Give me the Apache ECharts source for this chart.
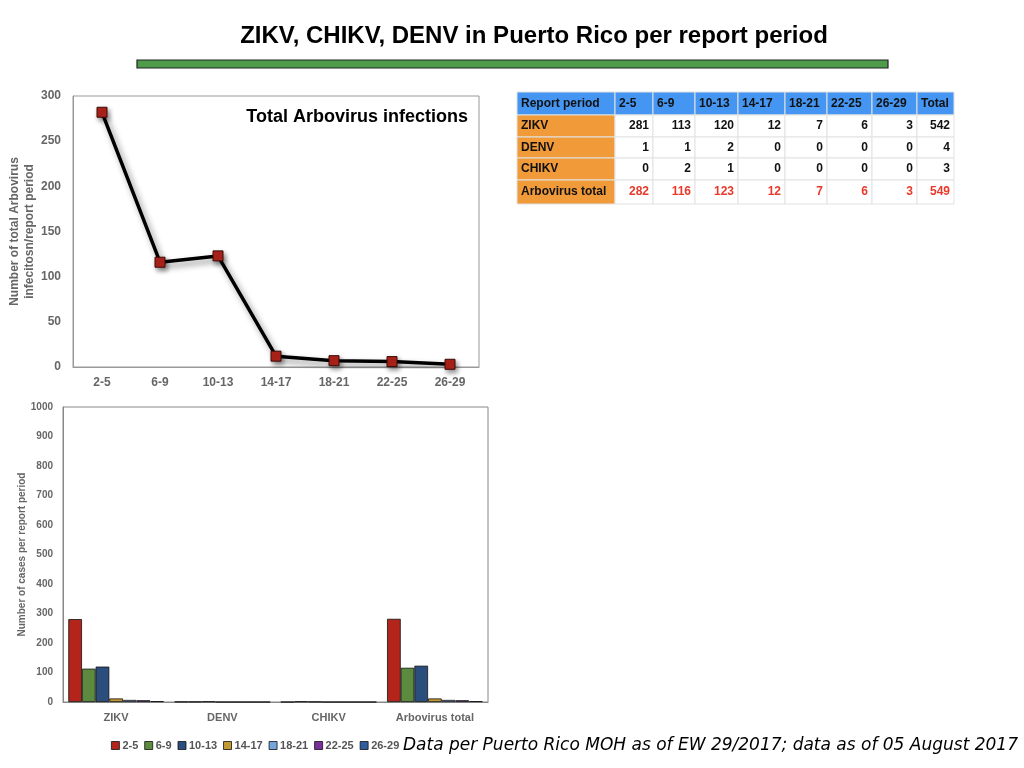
<!DOCTYPE html>
<html lang="en">
<head>
    <meta charset="UTF-8">
    <title>ZIKV, CHIKV, DENV in Puerto Rico</title>
    <script src="https://cdn.jsdelivr.net/npm/echarts@6/dist/echarts.min.js"></script>
    <style>
        html, body { margin: 0; padding: 0; background: #fff; }
        #main { width: 1024px; height: 768px; }
    </style>
</head>
<body>
<div id="main"></div>
<script>
    // report periods (epi weeks)
    var periods = ['2-5', '6-9', '10-13', '14-17', '18-21', '22-25', '26-29'];
    var zikv = [281, 113, 120, 12, 7, 6, 3];
    var denv = [1, 1, 2, 0, 0, 0, 0];
    var chikv = [0, 2, 1, 0, 0, 0, 0];
    var arboTotal = [282, 116, 123, 12, 7, 6, 3];
    var rowTotals = [542, 4, 3, 549];
    var viruses = ['ZIKV', 'DENV', 'CHIKV', 'Arbovirus total'];
    var barColors = ['#B3241A', '#5C8A3E', '#2C4E7D', '#C39A31', '#74A6DB', '#7B2F98', '#2F5C9C'];

    var chart = echarts.init(document.getElementById('main'));
    var gray = '#666';
    var font = 'Liberation Sans, Arial, sans-serif';

    // table built as graphic elements
    var colX = [517, 615, 653, 695, 738, 785, 827, 872, 917, 954];
    var rowY = [92, 115, 137, 158, 180, 204];
    var tableRows = [['Report period'].concat(periods, ['Total'])];
    var bodyData = [zikv, denv, chikv, arboTotal];
    for (var r = 0; r < viruses.length; r++) {
        tableRows.push([viruses[r]].concat(bodyData[r], [rowTotals[r]]));
    }
    var tableEls = [];
    for (var i = 0; i < tableRows.length; i++) {
        for (var j = 0; j < tableRows[i].length; j++) {
            var fill = '#fff';
            if (i === 0) fill = '#4596F2';
            else if (j === 0) fill = '#F09A3A';
            var x0 = colX[j], x1 = colX[j + 1], y0 = rowY[i], y1 = rowY[i + 1];
            tableEls.push({
                type: 'rect',
                shape: {x: x0, y: y0, width: x1 - x0, height: y1 - y0},
                style: {fill: fill, stroke: '#e2e2e2', lineWidth: 1}
            });
            var alignRight = (i > 0 && j > 0);
            tableEls.push({
                type: 'text',
                x: alignRight ? x1 - 4 : x0 + 4,
                y: (y0 + y1) / 2,
                style: {
                    text: String(tableRows[i][j]),
                    fill: (i === 4 && j > 0) ? '#E8392B' : '#111',
                    font: 'bold 12px ' + font,
                    align: alignRight ? 'right' : 'left',
                    verticalAlign: 'middle'
                }
            });
        }
    }

    var barSeries = periods.map(function (p, k) {
        return {
            name: p,
            type: 'bar',
            xAxisIndex: 1,
            yAxisIndex: 1,
            barGap: '0%',
            barCategoryGap: '10%',
            data: [zikv[k], denv[k], chikv[k], arboTotal[k]],
            itemStyle: {color: barColors[k], borderColor: '#111', borderWidth: 0.8}
        };
    });

    var option = {
        animation: false,
        textStyle: {fontFamily: font},
        grid: [
            {left: 73, right: 545, top: 96, bottom: 401, show: true, borderColor: '#999', borderWidth: 1},
            {left: 63, right: 536, top: 407, bottom: 66, show: true, borderColor: '#888', borderWidth: 1}
        ],
        xAxis: [
            {
                gridIndex: 0, type: 'category', data: periods,
                axisLine: {lineStyle: {color: '#999'}}, axisTick: {show: false},
                axisLabel: {color: gray, fontWeight: 'bold', fontSize: 12, margin: 10}
            },
            {
                gridIndex: 1, type: 'category', data: viruses,
                axisLine: {lineStyle: {color: '#888'}}, axisTick: {show: false},
                axisLabel: {color: gray, fontWeight: 'bold', fontSize: 11, margin: 10}
            }
        ],
        yAxis: [
            {
                gridIndex: 0, type: 'value', min: 0, max: 300, interval: 50,
                name: 'Number of total Arbovirus\ninfecitosn/report period',
                nameLocation: 'middle', nameGap: 35,
                nameTextStyle: {color: gray, fontWeight: 'bold', fontSize: 12, lineHeight: 15},
                axisLine: {show: true, lineStyle: {color: '#999'}}, axisTick: {show: false},
                splitLine: {show: false},
                axisLabel: {color: gray, fontWeight: 'bold', fontSize: 12, margin: 12}
            },
            {
                gridIndex: 1, type: 'value', min: 0, max: 1000, interval: 100,
                name: 'Number of cases per report period',
                nameLocation: 'middle', nameGap: 36,
                nameTextStyle: {color: gray, fontWeight: 'bold', fontSize: 10},
                axisLine: {show: true, lineStyle: {color: '#888'}}, axisTick: {show: false},
                splitLine: {show: false},
                axisLabel: {color: gray, fontWeight: 'bold', fontSize: 10, margin: 10,
                    formatter: function (v) { return String(v); }}
            }
        ],
        legend: {
            data: periods,
            left: 106, top: 735,
            itemWidth: 8, itemHeight: 8, itemGap: 6,
            icon: 'rect',
            textStyle: {color: '#555', fontWeight: 'bold', fontSize: 11, padding: [0, 0, 0, -2]},
            itemStyle: {borderColor: '#111', borderWidth: 0.8}
        },
        series: [{
            name: 'Arbovirus total',
            type: 'line',
            xAxisIndex: 0,
            yAxisIndex: 0,
            data: arboTotal,
            symbol: 'rect',
            symbolSize: 10,
            lineStyle: {color: '#000', width: 3.5, shadowColor: 'rgba(0,0,0,0.45)', shadowBlur: 6, shadowOffsetX: 3, shadowOffsetY: 4},
            itemStyle: {color: '#B3241A', borderColor: '#3a0a06', borderWidth: 1, shadowColor: 'rgba(0,0,0,0.45)', shadowBlur: 5, shadowOffsetX: 2, shadowOffsetY: 3}
        }].concat(barSeries),
        graphic: [
            {
                type: 'text', x: 534, y: 36,
                style: {text: 'ZIKV, CHIKV, DENV in Puerto Rico per report period', font: 'bold 24px ' + font, fill: '#000', align: 'center', verticalAlign: 'middle'}
            },
            {
                type: 'rect', shape: {x: 137, y: 60, width: 751, height: 8},
                style: {fill: '#4E9C49', stroke: '#222', lineWidth: 1.2}
            },
            {
                type: 'text', x: 468, y: 117,
                style: {text: 'Total Arbovirus infections', font: 'bold 18px ' + font, fill: '#000', align: 'right', verticalAlign: 'middle'}
            },
            {
                type: 'text', x: 1018, y: 746,
                style: {text: 'Data per Puerto Rico MOH as of EW 29/2017; data as of 05 August 2017', font: 'italic 17px "DejaVu Sans", sans-serif', fill: '#000', align: 'right', verticalAlign: 'middle'}
            }
        ].concat(tableEls)
    };
    chart.setOption(option);
</script>
</body>
</html>
